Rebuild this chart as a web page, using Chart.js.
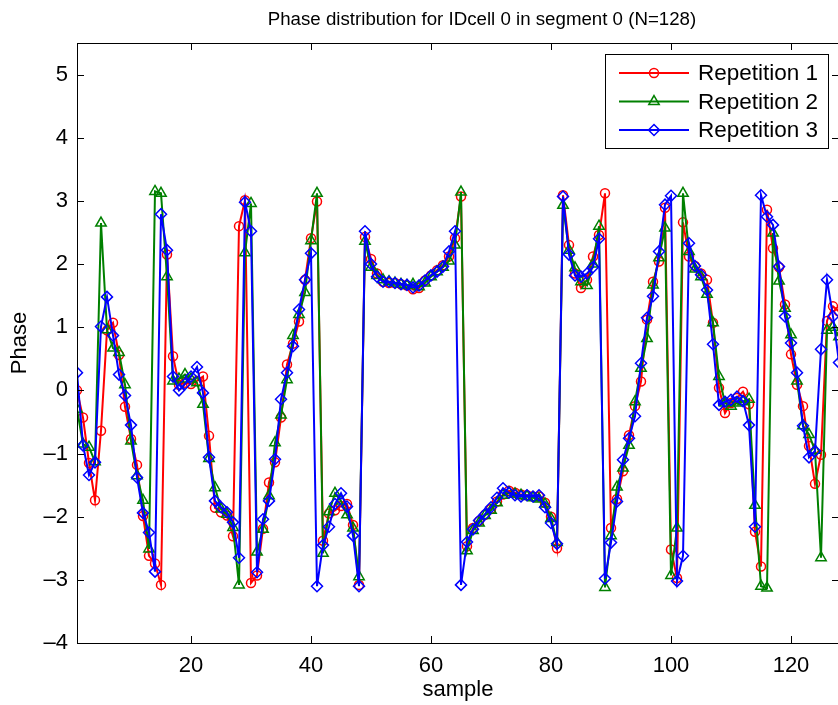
<!DOCTYPE html>
<html>
<head>
<meta charset="utf-8">
<script src="https://cdn.jsdelivr.net/npm/chart.js@4.4.1/dist/chart.umd.min.js"></script>
<style>
html, body { margin: 0; padding: 0; background: #fff; overflow: hidden; }
#wrap { width: 850px; height: 705px; }
</style>
</head>
<body>
<div id="wrap"><canvas id="myChart" width="850" height="705"></canvas></div>
<script>
// Phase per sample, three repetitions

const sampleIdx = Array.from({length: 128}, (_, i) => i + 1);   // x categories 1..128
const xTicks = [20, 40, 60, 80, 100, 120];
const yTicks = [-4, -3, -2, -1, 0, 1, 2, 3, 4, 5];

const rep1 = [
  0.00, -0.43, -1.15, -1.74, -0.64, 0.95, 1.07, 0.56, -0.26, -0.77, -1.18, -1.99, -2.62, -2.74, -3.08, 2.15,
  0.54, 0.09, 0.12, 0.10, 0.15, 0.22, -0.72, -1.86, -1.93, -1.98, -2.31, 2.60, 3.01, -3.05, -2.93, -2.19,
  -1.46, -1.14, -0.43, 0.41, 0.74, 1.09, 1.75, 2.41, 2.99, -2.38, -1.95, -1.90, -1.83, -1.80, -2.13, -3.08,
  2.43, 2.08, 1.85, 1.72, 1.70, 1.70, 1.68, 1.66, 1.60, 1.62, 1.74, 1.82, 1.90, 1.98, 2.12, 2.41,
  3.07, -2.47, -2.18, -2.07, -1.97, -1.88, -1.76, -1.65, -1.59, -1.62, -1.65, -1.66, -1.68, -1.68, -1.78, -2.00,
  -2.50, 3.09, 2.30, 1.85, 1.62, 1.75, 2.12, 2.46, 3.12, -2.18, -1.72, -1.28, -0.71, -0.25, 0.14, 1.12,
  1.72, 2.04, 2.89, -2.52, -2.97, 2.66, 2.12, 1.97, 1.85, 1.75, 1.07, 0.04, -0.36, -0.20, -0.12, -0.02,
  -0.22, -2.24, -2.79, 2.86, 2.25, 1.95, 1.36, 0.57, 0.09, -0.25, -0.88, -1.48, -1.02, 1.10, 1.33, 1.25
];
const rep2 = [
  -0.30, -0.85, -0.90, -1.13, 2.65, 0.96, 0.67, 0.60, 0.09, -0.80, -1.35, -1.74, -2.51, 3.15, 3.12, 1.80,
  0.15, 0.18, 0.25, 0.18, 0.12, -0.22, -1.08, -1.54, -1.88, -1.96, -2.17, -3.08, 2.18, 2.96, -2.56, -2.20,
  -1.67, -0.83, -0.39, 0.17, 0.87, 1.20, 1.55, 2.37, 3.12, -2.58, -1.92, -1.63, -1.75, -1.97, -2.18, -2.95,
  2.36, 1.95, 1.82, 1.75, 1.72, 1.70, 1.68, 1.66, 1.68, 1.64, 1.70, 1.80, 1.88, 1.95, 2.05, 2.30,
  3.14, -2.54, -2.22, -2.10, -1.98, -1.90, -1.78, -1.66, -1.62, -1.64, -1.66, -1.68, -1.70, -1.72, -1.80, -2.03,
  -2.41, 2.93, 2.22, 1.94, 1.72, 1.66, 2.00, 2.60, -3.12, -2.30, -1.53, -1.23, -0.87, -0.18, 0.35, 0.82,
  1.67, 2.10, 2.57, -2.93, -2.18, 3.12, 2.20, 1.92, 1.80, 1.52, 1.07, 0.22, -0.20, -0.25, -0.20, -0.18,
  -0.14, -1.82, -3.10, -3.13, 2.49, 1.73, 1.30, 0.88, 0.15, -0.56, -0.70, -0.95, -2.65, 0.95, 1.00, 0.85
];
const rep3 = [
  0.28, -0.87, -1.34, -1.14, 1.01, 1.48, 0.87, 0.25, -0.08, -0.55, -1.38, -1.94, -2.25, -2.87, 2.79, 2.22,
  0.22, 0.00, 0.10, 0.22, 0.37, -0.04, -1.06, -1.75, -1.85, -1.93, -2.09, -2.65, 2.98, 2.52, -2.88, -2.04,
  -1.75, -1.09, -0.14, 0.28, 0.70, 1.28, 1.75, 2.17, -3.10, -2.45, -2.16, -1.80, -1.63, -1.84, -2.30, -3.10,
  2.52, 2.00, 1.80, 1.72, 1.72, 1.70, 1.68, 1.67, 1.63, 1.66, 1.74, 1.82, 1.88, 1.96, 2.20, 2.52,
  -3.08, -2.40, -2.20, -2.06, -1.96, -1.85, -1.70, -1.55, -1.62, -1.66, -1.68, -1.66, -1.68, -1.66, -1.85, -2.10,
  -2.43, 3.07, 2.15, 1.82, 1.80, 1.85, 1.95, 2.40, -2.98, -2.41, -1.76, -1.10, -0.76, -0.41, 0.43, 1.15,
  1.49, 2.20, 2.94, 3.08, -3.02, -2.62, 2.33, 1.97, 1.83, 1.59, 0.73, -0.23, -0.18, -0.15, -0.10, -0.17,
  -0.55, -2.16, 3.09, 2.75, 2.62, 1.96, 1.17, 0.75, 0.28, -0.56, -1.06, -0.96, 0.65, 1.75, 1.17, 0.44
];

const FONT = "'Liberation Sans', Arial, Helvetica, sans-serif";
const titleText = 'Phase distribution for IDcell 0 in segment 0 (N=128)';

// inward tick marks on all four sides + axes box (matlab look)
const boxTicks = {
    id: 'boxTicks',
    afterDatasetsDraw(chart) {
        const {ctx, chartArea: a, scales: {x, y}} = chart;
        const len = 7;
        ctx.save();
        ctx.strokeStyle = '#000';
        ctx.lineWidth = 1;
        ctx.beginPath();
        x.ticks.forEach(t => {
            const px = Math.round(x.getPixelForValue(t.value)) + 0.5;
            ctx.moveTo(px, a.bottom); ctx.lineTo(px, a.bottom - len);
            ctx.moveTo(px, a.top); ctx.lineTo(px, a.top + len);
        });
        y.ticks.forEach(t => {
            const py = Math.round(y.getPixelForValue(t.value)) + 0.5;
            ctx.moveTo(a.left, py); ctx.lineTo(a.left + len, py);
            ctx.moveTo(a.right, py); ctx.lineTo(a.right - len, py);
        });
        ctx.stroke();
        ctx.strokeRect(Math.round(a.left) + 0.5, Math.round(a.top) + 0.5, Math.round(a.width), Math.round(a.height));
        ctx.restore();
    }
};

// title above the axes (sits a bit right of centre in the reference)
const topTitle = {
    id: 'topTitle',
    afterDraw(chart) {
        const {ctx} = chart;
        ctx.save();
        ctx.font = '18.7px ' + FONT;
        ctx.fillStyle = '#000';
        ctx.textAlign = 'center';
        ctx.textBaseline = 'middle';
        ctx.fillText(titleText, 482, 20);
        ctx.restore();
    }
};

// boxed legend in the top right corner of the axes
const boxLegend = {
    id: 'boxLegend',
    afterDraw(chart) {
        const {ctx} = chart;
        const bx = 605, by = 54, bw = 223, bh = 94;
        ctx.save();
        ctx.fillStyle = '#fff';
        ctx.fillRect(bx, by, bw, bh);
        ctx.strokeStyle = '#000';
        ctx.lineWidth = 1;
        ctx.strokeRect(bx + 0.5, by + 0.5, bw, bh);
        ctx.font = '22.5px ' + FONT;
        ctx.textBaseline = 'middle';
        ctx.textAlign = 'left';
        chart.data.datasets.forEach((ds, i) => {
            const cy = 73 + i * 28.5;
            ctx.strokeStyle = ds.borderColor;
            ctx.lineWidth = ds.borderWidth;
            ctx.beginPath();
            ctx.moveTo(619, cy); ctx.lineTo(689, cy);
            ctx.stroke();
            ctx.lineWidth = ds.pointBorderWidth;
            ctx.fillStyle = 'rgba(0,0,0,0)';
            Chart.helpers.drawPoint(ctx, {pointStyle: ds.pointStyle, radius: ds.pointRadius, borderWidth: ds.pointBorderWidth}, 654, cy);
            ctx.fillStyle = '#000';
            ctx.fillText(ds.label, 698, cy + 1);
        });
        ctx.restore();
    }
};

function createChart() {
    const ctx = document.getElementById('myChart');

    new Chart(ctx, {
        type: 'line',
        data: {
            labels: sampleIdx,
            datasets: [
                {
                    label: 'Repetition 1',
                    data: rep1,
                    borderColor: '#ff0000',
                    backgroundColor: 'rgba(0,0,0,0)',
                    borderWidth: 2,
                    pointStyle: 'circle',
                    pointRadius: 4.5,
                    pointBorderWidth: 1.5,
                    pointBackgroundColor: 'rgba(0,0,0,0)',
                    order: 3
                },
                {
                    label: 'Repetition 2',
                    data: rep2,
                    borderColor: '#008000',
                    backgroundColor: 'rgba(0,0,0,0)',
                    borderWidth: 2,
                    pointStyle: 'triangle',
                    pointRadius: 6,
                    pointBorderWidth: 1.5,
                    pointBackgroundColor: 'rgba(0,0,0,0)',
                    order: 2
                },
                {
                    label: 'Repetition 3',
                    data: rep3,
                    borderColor: '#0000ff',
                    backgroundColor: 'rgba(0,0,0,0)',
                    borderWidth: 2,
                    pointStyle: 'rectRot',
                    pointRadius: 5.5,
                    pointBorderWidth: 1.5,
                    pointBackgroundColor: 'rgba(0,0,0,0)',
                    order: 1
                }
            ]
        },
        options: {
            responsive: false,
            animation: false,
            layout: { padding: { top: 43, left: 0, right: 11, bottom: 0 } },
            elements: { line: { tension: 0 } },
            scales: {
                x: {
                    type: 'linear',
                    min: 1,
                    max: 128,
                    afterBuildTicks: scale => { scale.ticks = xTicks.map(v => ({value: v})); },
                    afterFit: scale => { scale.height = 62; },
                    grid: { display: false, drawTicks: false },
                    border: { display: false },
                    ticks: { color: '#000', padding: 10, maxRotation: 0, font: { family: FONT, size: 22 } },
                    title: { display: true, text: 'sample', color: '#000', padding: { top: 0, bottom: 2 }, font: { family: FONT, size: 22 } }
                },
                y: {
                    min: -4,
                    max: 5.5,
                    afterBuildTicks: scale => { scale.ticks = yTicks.map(v => ({value: v})); },
                    afterFit: scale => { scale.width = 77; },
                    grid: { display: false, drawTicks: false },
                    border: { display: false },
                    ticks: {
                        color: '#000',
                        padding: 9,
                        font: { family: FONT, size: 22 },
                        callback: v => v < 0 ? '\u2013' + Math.abs(v) : String(v)
                    },
                    title: { display: true, text: 'Phase', color: '#000', padding: { top: 7, bottom: 0 }, font: { family: FONT, size: 22 } }
                }
            },
            plugins: {
                legend: { display: false },
                tooltip: { enabled: false },
                title: { display: false }
            }
        },
        plugins: [boxTicks, topTitle, boxLegend]
    });
}

createChart();
</script>
</body>
</html>
